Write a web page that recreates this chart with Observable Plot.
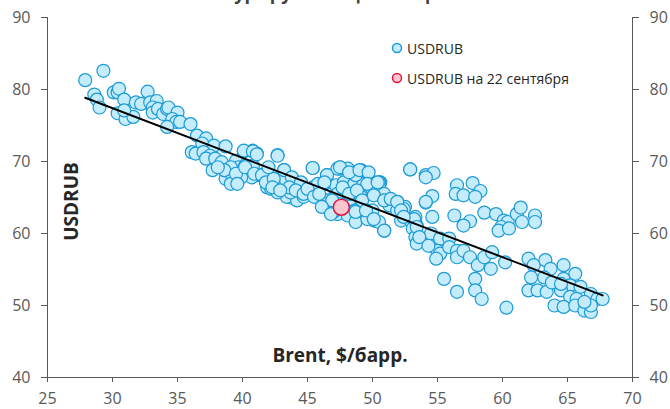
<!DOCTYPE html>
<html>
<head>
<meta charset="utf-8">
<script src="https://cdn.jsdelivr.net/npm/d3@7"></script>
<script src="https://cdn.jsdelivr.net/npm/@observablehq/plot@0.6"></script>
<style>
  html, body { margin: 0; padding: 0; background: #fff; }
  #wrap { position: relative; width: 670px; height: 409px; overflow: hidden; }
  .leg { position: absolute; left: 390px; font-family: "Open Sans", sans-serif; font-size: 14px; color: #262626; white-space: nowrap; display: flex; align-items: center; }
  .leg svg { margin-right: 3px; }
</style>
</head>
<body>
<div id="wrap"></div>
<script>
// Brent price ($/bbl) and USDRUB rate
const brent = [
27.9,29.3,28.6,28.8,29.0,30.1,30.4,30.5,30.9,30.4,31.0,31.6,30.9,31.8,32.2,32.7,32.9,33.4,33.1,33.1,
33.5,33.9,34.2,34.3,35.0,34.6,34.9,34.2,35.2,36.0,36.5,37.2,36.9,37.8,38.7,36.1,36.4,37.0,37.5,37.2,
37.9,38.4,37.7,38.7,39.2,39.6,39.5,40.1,40.8,41.1,39.7,40.2,40.8,40.5,41.5,41.9,42.4,42.7,43.2,42.9,
43.6,44.1,43.7,44.5,44.7,45.4,45.2,45.9,46.5,46.3,47.0,47.5,48.1,46.9,
41.9,41.1,42.2,43.4,44.2,44.7,45.4,45.7,46.4,47.0,47.3,46.6,46.3,47.8,48.2,44.7,43.7,42.7,43.2,42.4,
40.7,40.1,39.1,38.6,38.1,39.1,39.9,
47.5,48.2,49.1,49.6,50.6,50.2,52.9,54.1,54.7,54.6,54.1,54.6,56.5,56.4,57.0,57.7,58.3,57.9,56.3,57.5,
57.0,58.6,59.5,60.1,60.4,59.9,59.7,60.5,61.1,61.4,61.5,62.5,62.5,55.5,56.5,57.9,57.9,58.4,60.3,
47.2,47.8,48.6,49.3,50.1,50.5,47.0,48.1,48.7,49.3,50.0,50.1,50.9,50.6,51.4,51.9,52.0,52.5,52.2,52.9,
53.3,53.4,53.1,53.3,53.4,54.5,54.5,55.2,55.9,55.0,55.2,54.9,55.9,56.5,56.5,57.0,57.5,58.1,58.6,59.2,
59.1,60.2,62.0,62.4,63.3,63.7,63.2,64.7,65.6,64.7,65.2,62.0,62.7,63.4,64.5,65.2,65.7,66.8,67.3,67.7,
64.0,64.7,65.6,66.3,66.8,66.8,63.8,62.2,64.5,66.0,66.3,
47.3,48.1,48.7,49.9,50.5,50.2,50.9,51.3,51.9,52.4,48.3,49.1,47.3,47.4,48.7,49.6,50.5,
39.5,40.1,40.8,41.1,42.7,39.6,40.2,40.9,41.5,41.8,42.4,43.2,43.8,44.5,43.6,44.1,44.7,45.4,46.5,45.8,
46.3,45.0,45.5,45.9,46.9,46.1,46.8,47.5,48.2,49.0,49.7,49.6,50.4,47.7,48.2,48.8,49.2,50.1,50.9,51.4,
51.9,48.7,49.5,50.1,50.9,52.9,54.1,54.1,53.2,53.4,53.6,54.3,52.2,52.4,42.0,42.3,42.9
];
const usdrub = [
81.3,82.6,79.3,78.6,77.5,79.6,79.6,80.1,78.6,76.7,75.9,76.2,77.1,78.2,78.0,79.7,78.2,78.4,77.5,76.8,
77.3,76.6,77.3,77.5,76.8,75.9,75.5,74.8,75.5,75.2,73.6,73.2,72.5,72.2,72.1,71.3,71.1,71.3,70.8,70.4,
70.4,69.9,68.8,67.6,68.1,67.1,70.1,71.4,71.5,71.1,69.2,69.4,69.4,68.3,68.1,67.1,67.6,70.9,68.8,66.9,
66.7,66.4,65.0,65.3,66.0,69.1,65.5,65.3,68.1,64.6,66.4,69.0,68.8,63.0,
66.4,68.1,66.2,65.1,64.6,65.1,66.4,65.5,63.7,63.7,62.7,64.6,66.9,66.4,67.6,66.2,65.7,65.7,67.4,66.9,
67.8,68.8,69.2,68.8,69.2,66.9,67.8,
69.2,68.8,68.8,68.3,67.1,67.0,68.9,68.1,68.4,65.2,64.3,62.3,66.7,65.5,65.3,67.0,65.9,65.1,62.5,61.7,
61.1,62.9,62.7,61.8,61.6,60.9,60.4,60.7,62.7,63.6,61.6,62.5,61.6,53.7,51.9,53.7,52.1,50.9,49.7,
66.7,67.1,66.9,66.9,67.1,67.1,63.0,62.5,61.6,63.2,63.2,61.8,60.4,65.3,64.6,64.4,63.4,63.7,61.8,61.8,
62.3,61.1,60.7,59.5,58.6,60.0,58.3,59.3,59.3,57.6,57.2,56.5,58.1,57.6,56.7,57.6,56.7,55.6,56.7,57.4,
55.1,56.0,56.5,55.6,56.3,55.1,53.9,55.6,54.4,53.7,52.8,52.1,52.1,51.9,52.1,51.2,50.9,51.6,50.9,50.9,
50.0,49.8,50.0,49.3,49.1,50.0,53.2,53.9,53.0,52.6,50.5,
69.0,69.0,68.1,66.4,66.4,65.7,65.5,63.9,63.2,63.4,64.8,65.1,65.5,64.1,63.2,62.0,61.6,
68.3,71.5,71.4,71.0,70.8,66.9,69.2,68.3,68.1,67.1,67.6,68.8,67.8,67.1,66.4,66.0,65.5,69.1,68.1,66.9,
67.1,66.2,65.1,65.5,64.6,63.7,62.7,69.2,68.5,68.8,68.5,66.9,67.1,66.4,65.5,66.0,64.6,65.3,64.6,64.8,
64.4,63.0,63.2,62.0,60.4,68.9,67.8,64.4,62.0,60.9,59.5,58.3,63.2,62.3,69.2,66.4,66.0
];
// Point for 22 September
const sepBrent = [47.6];
const sepRub = [63.65];
// Trend line endpoints
const trendX = [27.9, 67.7];
const trendY = [78.85, 51.4];
// Axis ticks
const xTicks = [25, 30, 35, 40, 45, 50, 55, 60, 65, 70];
const yTicks = [40, 50, 60, 70, 80, 90];
const titleText = ["Курс рубля и цена нефти"];
const xLabel = ["Brent, $/барр."];
const yLabel = ["USDRUB"];
const legendLabels = ["USDRUB", "USDRUB на 22 сентября"];

const pts = brent.map((b, i) => ({b, r: usdrub[i]}));
const sep = sepBrent.map((b, i) => ({b, r: sepRub[i]}));
const trend = trendX.map((b, i) => ({b, r: trendY[i]}));

const axisColor = "#595959";
const chart = Plot.plot({
  width: 670,
  height: 409,
  marginLeft: 47,
  marginRight: 38,
  marginTop: 17,
  marginBottom: 32,
  style: {fontFamily: "'Open Sans', sans-serif", fontSize: "16px", color: axisColor, background: "#fff", overflow: "visible"},
  x: {domain: [25, 70]},
  y: {domain: [40, 90]},
  marks: [
    Plot.axisX({ticks: xTicks, tickSize: 5, tickPadding: 10, label: null, stroke: axisColor, fontSize: 16}),
    Plot.axisY({anchor: "left", ticks: yTicks, tickSize: 6, tickPadding: 11, label: null, stroke: axisColor, fontSize: 16}),
    Plot.axisY({anchor: "right", ticks: yTicks, tickSize: 6, tickPadding: 11, label: null, stroke: axisColor, fontSize: 16}),
    Plot.ruleY([40], {stroke: axisColor, strokeWidth: 1}),
    Plot.ruleX([25], {stroke: axisColor, strokeWidth: 1}),
    Plot.ruleX([70], {stroke: axisColor, strokeWidth: 1}),
    Plot.dot(pts, {x: "b", y: "r", r: 6.5, fill: "#c4ecfb", stroke: "#1b9ad6", strokeWidth: 1.2}),
    Plot.line(trend, {x: "b", y: "r", stroke: "#000", strokeWidth: 2}),
    Plot.dot(sep, {x: "b", y: "r", r: 8, fill: "#ffc6cf", stroke: "#e3163e", strokeWidth: 1.5}),
    Plot.text(yLabel, {frameAnchor: "left", dx: 24, dy: 4, rotate: -90, textAnchor: "middle", lineAnchor: "middle", fontWeight: "bold", fontSize: 19, fill: "#262626"}),
    Plot.text(xLabel, {frameAnchor: "bottom", dy: -21.5, textAnchor: "middle", lineAnchor: "middle", fontWeight: "bold", fontSize: 19, fill: "#262626"}),
    Plot.text(titleText, {frameAnchor: "top", dy: -30, fontWeight: "bold", fontSize: 18, fill: "#404040"})
  ]
});
const wrap = document.getElementById("wrap");
wrap.appendChild(chart);

const legColors = [["#c4ecfb", "#1b9ad6"], ["#ffc6cf", "#e3163e"]];
const legY = [48, 78];
legendLabels.forEach((lab, i) => {
  const d = document.createElement("div");
  d.className = "leg";
  d.style.top = (legY[i] - 10) + "px";
  d.style.height = "20px";
  d.innerHTML = `<svg width="14" height="14"><circle cx="7" cy="7" r="4.5" fill="${legColors[i][0]}" stroke="${legColors[i][1]}" stroke-width="1.5"/></svg><span></span>`;
  d.querySelector("span").textContent = lab;
  wrap.appendChild(d);
});
</script>
</body>
</html>
